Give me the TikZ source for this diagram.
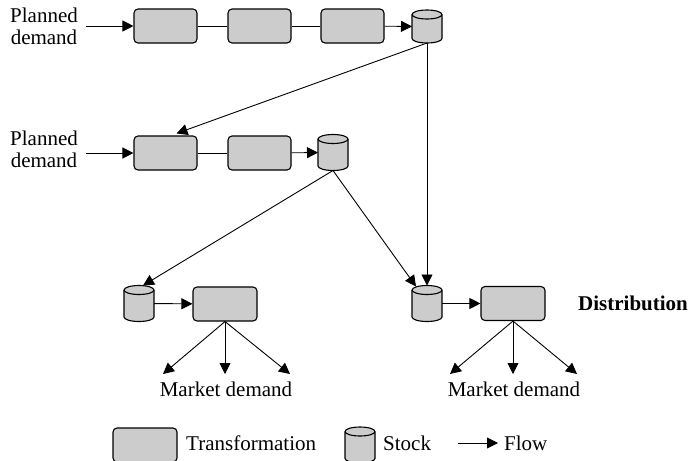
\documentclass[tikz,border=0pt]{standalone}
\usepackage{fontspec}
\setmainfont{Liberation Serif}
\usetikzlibrary{arrows.meta,calc}

\tikzset{
  trans/.style={draw, line width=1.1pt, fill=gray!40, rounded corners=4pt,
                minimum width=63pt, minimum height=34pt, inner sep=0pt},
  stock/.style={minimum width=30pt, minimum height=36pt, inner sep=0pt, outer sep=0pt},
  stockline/.style={line width=1.1pt, fill=gray!40},
  flow/.style={line width=0.9pt, -{Triangle[length=11pt,width=11pt]}},
  link/.style={line width=0.9pt},
  lbl/.style={font=\fontsize{21}{22}\selectfont, align=center, inner sep=0pt},
}

% cylinder drawn over a stock node: #1 node name, #2 half height
\newcommand\drawstock[2]{%
  \draw[stockline, shift={(#1.center)}]
    (-15,{-#2+4.5}) -- (-15,{#2-4.5})
    arc[start angle=180, end angle=0, x radius=15, y radius=4.5]
    -- (15,{-#2+4.5})
    arc[start angle=0, end angle=-180, x radius=15, y radius=4.5] -- cycle;
  \draw[line width=1.1pt, shift={(#1.center)}]
    (-15,{-#2+4.5}) arc[start angle=180, end angle=0, x radius=15, y radius=4.5];
}

\begin{document}
\begin{tikzpicture}[x=1pt, y=-1pt]
  \useasboundingbox (0,0) rectangle (689,461);

  % first production stage
  \node[lbl] (pd1) at (44,26) {Planned\\demand};
  \coordinate (in1) at (86,26);
  \node[trans] (t11) at (165.5,26) {};
  \node[trans] (t12) at (259.5,26) {};
  \node[trans] (t13) at (352.5,26) {};
  \node[stock, minimum height=33pt] (s1) at (427,26.5) {};
  \drawstock{s1}{16.5}
  \draw[flow] (in1) -- (t11);
  \draw[link] (t11) -- (t12);
  \draw[link] (t12) -- (t13);
  \draw[flow] (t13) -- (s1);

  % second production stage
  \node[lbl] (pd2) at (44,149) {Planned\\demand};
  \coordinate (in2) at (86,153);
  \node[trans] (t21) at (165.5,153) {};
  \node[trans] (t22) at (259.5,153) {};
  \node[stock] (s2) at (333,152.5) {};
  \drawstock{s2}{18}
  \draw[flow] (in2) -- (t21);
  \draw[link] (t21) -- (t22);
  \draw[flow] (t22) -- (s2);

  % distribution stage
  \node[stock] (s3) at (139,303.5) {};
  \drawstock{s3}{18}
  \node[trans, minimum width=64pt] (t31) at (225,304) {};
  \node[stock] (s4) at (427,303.5) {};
  \drawstock{s4}{18}
  \node[trans, minimum width=64pt] (t41) at (513,303.5) {};
  \draw[flow] (s3) -- (t31);
  \draw[flow] (s4) -- (t41);

  % links between stages
  \draw[flow] (s1.south) -- ($(t21.north)+(11,-2)$);
  \draw[flow] (s1.south) -- (s4.north);
  \draw[flow] (s2.south) -- ($(s3.north)+(4,0)$);
  \draw[flow] (s2.south) -- ($(s4.north)+(-11,1)$);

  % market demand fans
  \coordinate (m1) at (163,374);
  \coordinate (m2) at (225,374);
  \coordinate (m3) at (290,374);
  \coordinate (m4) at (450,374);
  \coordinate (m5) at (513,374);
  \coordinate (m6) at (577,374);
  \foreach \m in {m1,m2,m3} \draw[flow] (t31.south) -- (\m);
  \foreach \m in {m4,m5,m6} \draw[flow] (t41.south) -- (\m);
  \node[lbl] (md1) at (226,389) {Market demand};
  \node[lbl] (md2) at (514,389) {Market demand};

  \node[lbl, anchor=west, font=\fontsize{21}{22}\selectfont\bfseries] (dist) at (578,303) {Distribution};

  % legend
  \node[trans, minimum width=64pt] (lt) at (145,445) {};
  \node[lbl, anchor=west] (ltt) at (186,443) {Transformation};
  \node[stock] (ls) at (360,445) {};
  \drawstock{ls}{18}
  \node[lbl, anchor=west] (lst) at (383,443) {Stock};
  \coordinate (lf1) at (458,443);
  \coordinate (lf2) at (498,443);
  \draw[flow] (lf1) -- (lf2);
  \node[lbl, anchor=west] (lft) at (504,443) {Flow};
\end{tikzpicture}
\end{document}
